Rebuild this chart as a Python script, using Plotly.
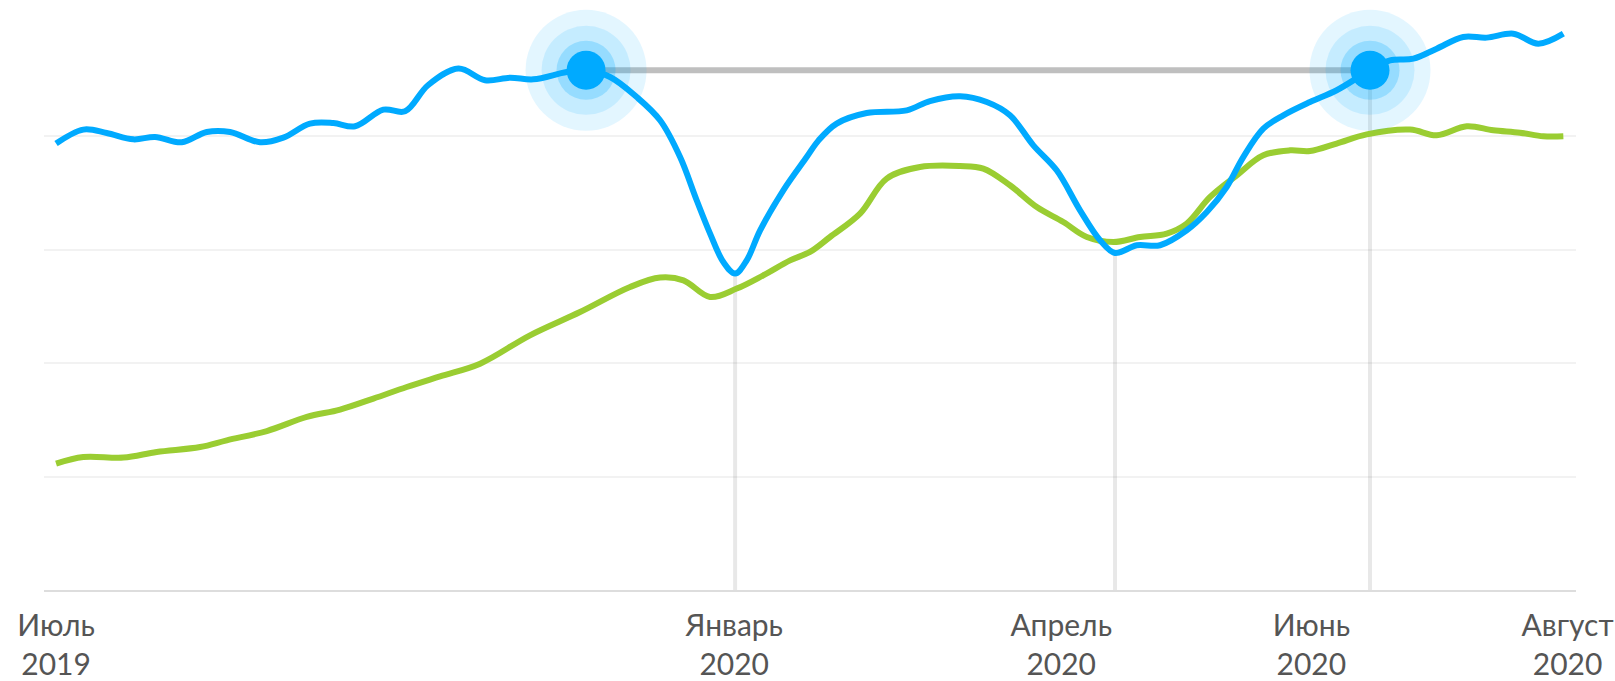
import plotly.graph_objects as go

# ось X: условные единицы (0 = начало ряда, 100 = конец)
tick_pos = [0, 45.0, 66.7, 83.3, 100.3]
tick_text = ["Июль<br>2019", "Январь<br>2020", "Апрель<br>2020", "Июнь<br>2020", "Август<br>2020"]

# синяя линия
blue_x = [0, 1.81, 3.36, 5.13, 6.57, 8.34, 10.0, 11.55, 13.54, 15.08, 16.85, 18.4, 19.84,
          21.72, 23.16, 24.68, 26.7, 28.47, 30.13, 31.67, 33.89, 35.17, 36.76, 38.53, 40.08,
          41.41, 42.51, 43.4, 44.28, 45.06, 45.83, 46.72, 48.26, 49.81, 50.6, 51.8, 53.79,
          56.45, 57.99, 59.99, 61.76, 63.3, 64.85, 66.4, 67.95, 69.28, 70.27, 71.71, 73.26,
          75.03, 76.36, 77.68, 78.78, 80.11, 81.44, 83.21, 84.98, 87.19, 88.52, 90.07, 91.62,
          93.38, 94.94, 96.7, 98.36, 100.02]
blue_y = [3.937, 4.06, 4.03, 3.974, 3.995, 3.948, 4.039, 4.039, 3.948, 3.989, 4.113, 4.118, 4.089,
          4.236, 4.221, 4.451, 4.598, 4.495, 4.518, 4.503, 4.568, 4.583, 4.524, 4.347, 4.142,
          3.818, 3.437, 3.143, 2.892, 2.79, 2.907, 3.172, 3.525, 3.818, 3.965, 4.113, 4.206,
          4.23, 4.312, 4.354, 4.303, 4.186, 3.921, 3.701, 3.348, 3.084, 2.972, 3.04, 3.04,
          3.172, 3.333, 3.554, 3.818, 4.069, 4.186, 4.303, 4.407, 4.583, 4.671, 4.686, 4.774,
          4.877, 4.871, 4.906, 4.818, 4.906]

# зелёная линия
green_x = [0, 1.81, 4.47, 6.68, 9.56, 11.33, 13.99, 16.64, 18.85, 21.06, 23.27, 25.48, 28.14,
           31.45, 34.77, 38.09, 40.08, 41.63, 43.4, 45.17, 46.93, 48.71, 50.03, 51.36, 53.35,
           55.12, 57.33, 59.99, 61.53, 63.3, 65.08, 66.84, 68.4, 70.16, 71.93, 73.7, 75.03,
           76.58, 78.35, 80.11, 81.88, 83.21, 84.98, 86.97, 89.85, 91.62, 93.61, 95.37, 97.14,
           98.69, 100.02]
green_y = [1.115, 1.173, 1.168, 1.217, 1.261, 1.32, 1.402, 1.526, 1.591, 1.688, 1.79, 1.884, 1.996,
           2.246, 2.451, 2.672, 2.755, 2.731, 2.584, 2.658, 2.775, 2.907, 2.981, 3.113, 3.319,
           3.628, 3.73, 3.739, 3.716, 3.569, 3.377, 3.245, 3.113, 3.069, 3.113, 3.143, 3.231,
           3.466, 3.657, 3.833, 3.877, 3.871, 3.937, 4.018, 4.06, 4.01, 4.089, 4.054, 4.033,
           4.001, 4.001]

# выделенные точки и вертикальные отметки
highlight_x = [35.17, 87.19]
highlight_y = [4.583, 4.583]
drop_x = [45.06, 70.27, 87.19]
drop_y = [2.79, 2.972, 4.583]

BLUE = "#00aaff"
GREEN = "#9acd32"

fig = go.Figure()

# вертикальные линии до оси
for dx, dy in zip(drop_x, drop_y):
    fig.add_trace(go.Scatter(x=[dx, dx], y=[0, dy], mode="lines",
                             line=dict(color="rgba(0,0,0,0.09)", width=4),
                             hoverinfo="skip"))

# горизонтальная линия между выделенными точками
fig.add_trace(go.Scatter(x=highlight_x, y=highlight_y, mode="lines",
                         line=dict(color="rgba(0,0,0,0.25)", width=6),
                         hoverinfo="skip"))

fig.add_trace(go.Scatter(x=green_x, y=green_y, mode="lines",
                         line=dict(color=GREEN, width=6, shape="spline", smoothing=1.0)))
fig.add_trace(go.Scatter(x=blue_x, y=blue_y, mode="lines",
                         line=dict(color=BLUE, width=6, shape="spline", smoothing=1.0)))

# концентрические круги вокруг точек
rings = [(121, "rgba(0,170,255,0.11)"), (89, "rgba(0,170,255,0.13)"),
         (59, "rgba(0,170,255,0.24)"), (39, BLUE)]
for size, color in rings:
    fig.add_trace(go.Scatter(x=highlight_x, y=highlight_y, mode="markers",
                             marker=dict(size=size, color=color, line=dict(width=0)),
                             cliponaxis=False, hoverinfo="skip"))

fig.update_layout(
    width=1615, height=681,
    margin=dict(l=44, r=39, t=23, b=91),
    plot_bgcolor="white", paper_bgcolor="white",
    showlegend=False,
    hovermode=False,
    font=dict(family="Lato, Open Sans, sans-serif", size=30, color="#555555"),
)
fig.update_xaxes(range=[-0.8, 100.86], tickmode="array", tickvals=tick_pos, ticktext=tick_text,
                 showgrid=False, zeroline=False, showline=True, linecolor="#dddddd", linewidth=2,
                 ticks="", automargin=False, tickangle=0, ticklabelstandoff=8)
fig.update_yaxes(range=[0, 5], dtick=1, showticklabels=False, showgrid=True,
                 gridcolor="#f2f2f2", gridwidth=2, zeroline=False, automargin=False)

# убираем стандартный отступ страницы, чтобы график занял всё окно
fig.write_html("out.html", config={"displayModeBar": False},
               post_script="document.body.style.margin='0';")
